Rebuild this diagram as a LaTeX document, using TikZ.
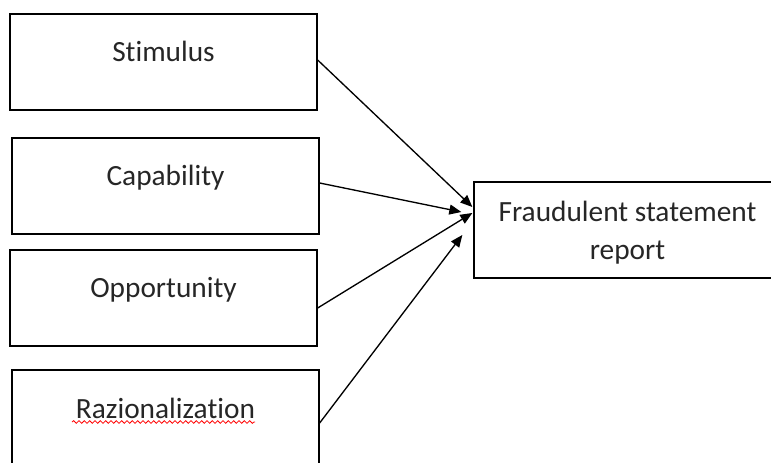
\documentclass[tikz,border=0pt]{standalone}
\usepackage{fontspec}
\setmainfont{Carlito}[Ligatures=NoCommon]
\usepackage{tikz}
\usetikzlibrary{arrows.meta,calc,decorations.pathmorphing}

\begin{document}
\begin{tikzpicture}[x=0.75pt, y=-0.75pt,
      factor/.style={draw, line width=1pt, inner sep=0pt, minimum width=230.25pt, minimum height=72pt,
        text height=36pt, text depth=36pt, text=black!85, font={\fontsize{22}{28.5}\selectfont}},
      result/.style={factor, align=center, text height=58.5pt, text depth=13.5pt},
      link/.style={-{Triangle[length=9pt,width=7.5pt]}, line width=1pt}]

    \useasboundingbox (0,0) rectangle (771,463);
    \clip (0,0) rectangle (771,463);

    %draw factor boxes
    \node[factor] (stim) at (163.5, 62)  {Stimulus};
    \node[factor] (cap)  at (165.5, 186) {Capability};
    \node[factor] (opp)  at (163.5, 298) {Opportunity};
    \node[factor] (raz)  at (165.5, 418) {Razionalization};
    \draw[red, line width=0.6pt, decorate, decoration={snake, amplitude=1pt, segment length=4pt}] (72, 422) -- (255, 422);

    %draw result box
    \node[result] (frd) at (627.5, 230) {Fraudulent statement\\report};

    %draw arrows
    \draw[link] ($(stim.east)+(0,-2)$) -- ($(frd.west)+(-1,-23)$);
    \draw[link] ($(cap.east)+(0,-3)$)  -- ($(frd.west)+(-12,-18)$);
    \draw[link] ($(opp.east)+(0,10)$)  -- ($(frd.west)+(-1,-17)$);
    \draw[link] ($(raz.east)+(0,5)$)   -- ($(frd.west)+(-11,5)$);

\end{tikzpicture}
\end{document}
